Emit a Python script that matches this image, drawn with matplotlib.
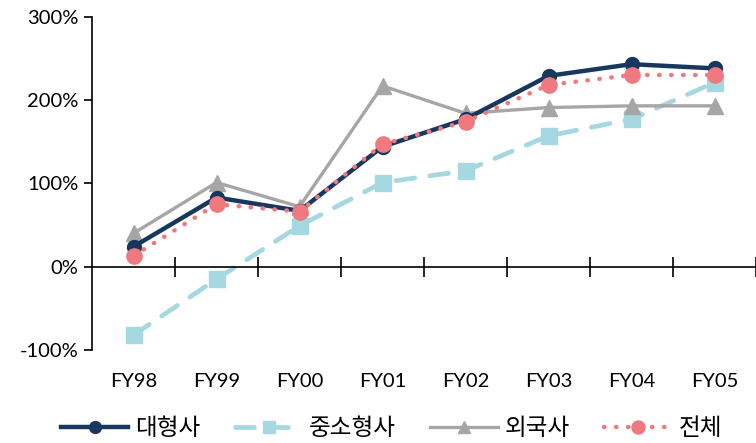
import matplotlib
matplotlib.use("Agg")
import matplotlib.pyplot as plt
from matplotlib.transforms import blended_transform_factory

plt.rcParams['font.family'] = ['Lato', 'Noto Sans CJK KR', 'DejaVu Sans']

categories = ["FY98", "FY99", "FY00", "FY01", "FY02", "FY03", "FY04", "FY05"]
large = [24, 83, 67, 144, 177, 229, 243, 238]
small = [-82, -15, 49, 101, 115, 157, 177, 221]
foreign = [40, 101, 72, 217, 184, 191, 193, 193]
total = [13, 75, 66, 147, 174, 218, 230, 230]
series_names = ["대형사", "중소형사", "외국사", "전체"]
yticks = [-100, 0, 100, 200, 300]

fig = plt.figure(figsize=(7.56, 4.43), dpi=100)
ax = fig.add_axes([92/756, 1-350/443, 664/756, 333.3/443])
x = list(range(len(categories)))

ax.plot(x, small, color='#A5D8E0', lw=3.4, ls=(0, (4, 3.2)), marker='s', ms=11,
        mec='#A5D8E0', mfc='#A5D8E0', label=series_names[1], zorder=2, dash_capstyle='round')
ax.plot(x, foreign, color='#A6A6A6', lw=2.4, marker='^', ms=11,
        label=series_names[2], zorder=3)
ax.plot(x, large, color='#17375E', lw=3.2, marker='o', ms=10,
        label=series_names[0], zorder=4)
ax.plot(x, total, color='#EE7A80', lw=3.2, ls=(0, (0.1, 2.6)), marker='o', ms=11,
        dash_capstyle='round', label=series_names[3], zorder=5)

ax.set_xlim(-0.5, 7.5)
ax.set_ylim(-100, 300)
ax.spines['top'].set_visible(False)
ax.spines['right'].set_visible(False)
ax.spines['bottom'].set_position(('data', 0))
ax.spines['left'].set_linewidth(1.2)
ax.spines['bottom'].set_linewidth(1.2)

ax.set_yticks(yticks)
ax.set_yticklabels([f"{v}%" for v in yticks], fontsize=14.5)
ax.tick_params(axis='y', direction='out', length=6, width=1.2, pad=4)

ax.set_xticks([i + 0.5 for i in x])
ax.set_xticklabels([])
ax.tick_params(axis='x', direction='inout', length=15, width=1.2)

trans = blended_transform_factory(ax.transData, ax.transAxes)
for i, c in enumerate(categories):
    ax.text(i, -0.095, c, transform=trans, ha='center', va='center', fontsize=14.5)

handles, labels = ax.get_legend_handles_labels()
order = [2, 0, 1, 3]
leg = fig.legend([handles[i] for i in order], [labels[i] for i in order],
                 loc='center', bbox_to_anchor=(0.518, 1 - 428/443),
                 ncol=4, frameon=False, fontsize=17, handlelength=2.85,
                 columnspacing=1.45, handletextpad=0.3, markerscale=0.85)

fig.savefig("out.png", dpi=100)
